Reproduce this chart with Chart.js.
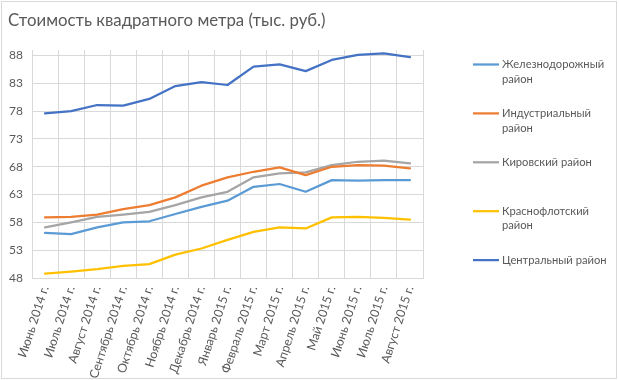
<!DOCTYPE html>
<html>
<head>
<meta charset="utf-8">
<script src="https://cdn.jsdelivr.net/npm/chart.js@4"></script>
<style>
html,body{margin:0;padding:0;background:#fff;}
canvas{display:block;}
</style>
</head>
<body>
<canvas id="c" width="619" height="380"></canvas>
<script>
const categories = ["Июнь 2014 г.","Июль 2014 г.","Август 2014 г.","Сентябрь 2014 г.","Октябрь 2014 г.","Ноябрь 2014 г.","Декабрь 2014 г.","Январь 2015 г.","Февраль 2015 г.","Март 2015 г.","Апрель 2015 г.","Май 2015 г.","Июнь 2015 г.","Июль 2015 г.","Август 2015 г."];
const seriesNames = ["Железнодорожный район","Индустриальный район","Кировский район","Краснофлотский район","Центральный район"];
const zheleznodorozhny = [56.1,55.9,57.1,58.0,58.2,59.5,60.8,61.9,64.4,64.9,63.5,65.6,65.5,65.6,65.6];
const industrialny     = [58.9,59.0,59.4,60.4,61.1,62.5,64.6,66.1,67.1,67.9,66.5,68.0,68.3,68.2,67.7];
const kirovsky         = [57.1,58.0,59.0,59.4,59.9,61.1,62.5,63.5,66.1,66.8,67.0,68.3,68.9,69.1,68.6];
const krasnoflotsky    = [48.8,49.15,49.6,50.2,50.5,52.2,53.3,54.85,56.3,57.1,56.9,58.9,59.0,58.8,58.5];
const centralny        = [77.6,78.0,79.1,79.0,80.2,82.5,83.2,82.7,86.0,86.4,85.2,87.2,88.1,88.4,87.7];
const yTicks = [48,53,58,63,68,73,78,83,88];
const colors = ["#5B9BD5","#ED7D31","#A5A5A5","#FFC000","#4472C4"];
const titleText = "Стоимость квадратного метра (тыс. руб.)";

const FONT = "Lato, 'Open Sans', 'Liberation Sans', sans-serif";
const TXT = "#595959";
const seriesData = [zheleznodorozhny, industrialny, kirovsky, krasnoflotsky, centralny];

const frame = {
  id: 'frame',
  beforeDraw(chart){
    const ctx = chart.ctx;
    ctx.save();
    ctx.fillStyle = '#fff';
    ctx.fillRect(0,0,chart.width,chart.height);
    ctx.strokeStyle = '#d9d9d9';
    ctx.lineWidth = 1;
    ctx.strokeRect(1.5,1.5,chart.width-4,chart.height-3);
    ctx.restore();
  }
};

const sideLegend = {
  id: 'sideLegend',
  afterDraw(chart){
    const ctx = chart.ctx;
    ctx.save();
    ctx.font = "11.2px " + FONT;
    ctx.fillStyle = TXT;
    ctx.textBaseline = 'middle';
    const maxW = 108;
    chart.data.datasets.forEach((ds, i) => {
      const y0 = 64.5 + i * 48.9;
      ctx.strokeStyle = ds.borderColor;
      ctx.lineWidth = 2.25;
      ctx.beginPath();
      ctx.moveTo(473, y0);
      ctx.lineTo(499, y0);
      ctx.stroke();
      const words = ds.label.split(' ');
      const lines = [];
      let cur = '';
      words.forEach(w => {
        const t = cur ? cur + ' ' + w : w;
        if (cur && ctx.measureText(t).width > maxW) { lines.push(cur); cur = w; }
        else cur = t;
      });
      if (cur) lines.push(cur);
      lines.forEach((l, k) => ctx.fillText(l, 502, y0 + k * 14.5));
    });
    ctx.restore();
  }
};

new Chart(document.getElementById('c'), {
  type: 'line',
  data: {
    labels: categories,
    datasets: seriesNames.map((n, i) => ({
      label: n,
      data: seriesData[i],
      borderColor: colors[i],
      backgroundColor: colors[i],
      borderWidth: 2.25,
      pointRadius: 0,
      tension: 0,
      fill: false,
      borderCapStyle: 'round',
      borderJoinStyle: 'round'
    }))
  },
  options: {
    responsive: false,
    animation: false,
    devicePixelRatio: 1,
    layout: { padding: { left: 8, right: 196, top: 0, bottom: 0 } },
    plugins: {
      legend: { display: false },
      tooltip: { enabled: false },
      title: {
        display: true,
        text: titleText,
        align: 'start',
        color: TXT,
        font: { family: FONT, size: 16.8, weight: 'normal', lineHeight: 1.2 },
        padding: { top: 11, bottom: 18.8 }
      }
    },
    scales: {
      x: {
        offset: true,
        grid: { offset: true, color: '#d9d9d9', drawTicks: false },
        border: { color: '#d9d9d9' },
        ticks: {
          autoSkip: false, maxRotation: 72, minRotation: 72,
          color: TXT, font: { family: FONT, size: 12.4 }, padding: 6
        },
        afterFit(s){ s.height = 102; }
      },
      y: {
        min: 48, max: 89,
        afterBuildTicks(s){ s.ticks = yTicks.map(v => ({ value: v })); },
        grid: { color: '#d9d9d9', drawTicks: false },
        border: { display: false },
        ticks: { color: TXT, font: { family: FONT, size: 12 }, padding: 9 },
        afterFit(s){ s.width = 24; }
      }
    }
  },
  plugins: [frame, sideLegend]
});
</script>
</body>
</html>
